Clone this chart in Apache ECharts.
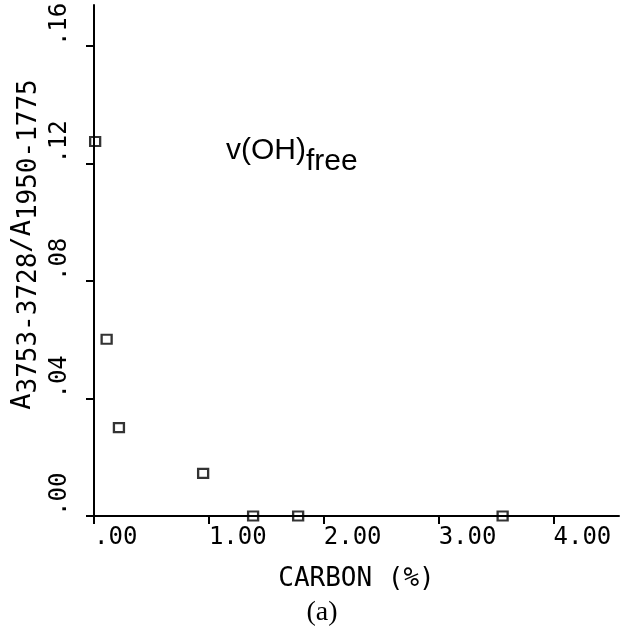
<!DOCTYPE html>
<html>
<head>
<meta charset="utf-8">
<script src="https://cdn.jsdelivr.net/npm/echarts@6/dist/echarts.min.js"></script>
<style>
  html, body { margin: 0; padding: 0; background: #fff; }
  #chart { width: 623px; height: 628px; }
</style>
</head>
<body>
<div id="chart"></div>
<script>
// Carbon content (%) and free-OH band absorbance ratio
const carbonPct = [0.01, 0.11, 0.217, 0.95, 1.385, 1.777, 3.557];
const absRatio  = [0.1275, 0.0602, 0.0301, 0.0145, 0, 0, 0];

// Axis ticks and their printed labels
const xTicks = [0, 1, 2, 3, 4];
const xTickLabels = ['.00', '1.00', '2.00', '3.00', '4.00'];
const yTicks = [0, 0.04, 0.08, 0.12, 0.16];
const yTickLabels = ['.00', '.04', '.08', '.12', '.16'];

function labelFor(ticks, labels) {
  return function (v) {
    let best = 0;
    for (let i = 1; i < ticks.length; i++) {
      if (Math.abs(ticks[i] - v) < Math.abs(ticks[best] - v)) best = i;
    }
    return Math.abs(ticks[best] - v) < 1e-6 ? labels[best] : '';
  };
}

const MONO = '"DejaVu Sans Mono", monospace';
const SANS = '"Liberation Sans", Arial, sans-serif';
const chart = echarts.init(document.getElementById('chart'), null, { renderer: 'canvas' });

chart.setOption({
  backgroundColor: '#fff',
  animation: false,
  grid: {
    left: 94, right: 4, top: 5, bottom: 112,
    containLabel: false,
    outerBoundsMode: 'none'
  },
  xAxis: {
    type: 'value',
    min: 0, max: 4.57,
    name: 'CARBON (%)',
    nameLocation: 'middle',
    nameGap: 50,
    nameMoveOverlap: false,
    nameTextStyle: { fontFamily: MONO, fontSize: 26, color: '#000', verticalAlign: 'top' },
    axisLine: { show: true, onZero: false, lineStyle: { color: '#000', width: 2 } },
    axisTick: { show: true, inside: false, length: 8, customValues: xTicks, lineStyle: { color: '#000', width: 2 } },
    axisLabel: {
      customValues: xTicks,
      formatter: labelFor(xTicks, xTickLabels),
      fontFamily: MONO, fontSize: 24, color: '#000',
      align: 'left', margin: 10
    },
    splitLine: { show: false }
  },
  yAxis: {
    type: 'value',
    min: 0, max: 0.174,
    name: '{a|A}{s|3753-3728}{a|/A}{s|1950-1775}',
    nameLocation: 'middle',
    nameRotate: 90,
    nameGap: 71,
    nameMoveOverlap: false,
    nameTextStyle: {
      align: 'center', verticalAlign: 'middle',
      padding: [0, 0, 0, 32],
      rich: {
        a: { fontFamily: MONO, fontSize: 27, color: '#000', lineHeight: 28, verticalAlign: 'top' },
        s: { fontFamily: MONO, fontSize: 26, color: '#000', lineHeight: 28, padding: [7, 0, 0, 0], verticalAlign: 'top' }
      }
    },
    axisLine: { show: true, onZero: false, lineStyle: { color: '#000', width: 2 } },
    axisTick: { show: true, inside: false, length: 8, customValues: yTicks, lineStyle: { color: '#000', width: 2 } },
    axisLabel: {
      customValues: yTicks,
      formatter: labelFor(yTicks, yTickLabels),
      rotate: 90,
      fontFamily: MONO, fontSize: 24, color: '#000',
      align: 'left', verticalAlign: 'middle', margin: 34
    },
    splitLine: { show: false }
  },
  series: [{
    type: 'scatter',
    data: carbonPct.map((c, i) => [c, absRatio[i]]),
    symbol: 'rect',
    symbolSize: [10, 9],
    clip: false,
    itemStyle: { color: 'rgba(255,255,255,0)', borderColor: '#000', borderWidth: 2.2 },
    z: 5
  }],
  graphic: [
    {
      type: 'text',
      left: 226, top: 136,
      style: {
        text: '{m|v(OH)}{s|free}',
        rich: {
          m: { fontFamily: SANS, fontSize: 30, color: '#000', lineHeight: 32, verticalAlign: 'top' },
          s: { fontFamily: SANS, fontSize: 30, color: '#000', lineHeight: 32, padding: [11, 0, 0, 0], verticalAlign: 'top' }
        }
      }
    },
    {
      type: 'text',
      x: 322, y: 613,
      style: {
        text: '(a)',
        fontFamily: '"Liberation Serif", "Times New Roman", serif',
        fontSize: 28, fill: '#000',
        align: 'center', verticalAlign: 'middle'
      }
    }
  ]
});
</script>
</body>
</html>
